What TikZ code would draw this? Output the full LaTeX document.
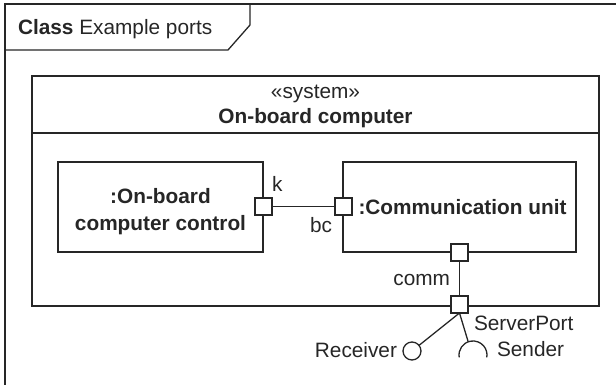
\documentclass[tikz,border=0pt]{standalone}
\usepackage{fontspec}
\setmainfont{Liberation Sans}
\begin{document}
\begin{tikzpicture}[x=1pt,y=-1pt,line width=1.3pt,
  every node/.style={inner sep=0pt,outer sep=0pt,text=ink,font=\fontsize{20.8}{27}\selectfont},
  txt/.style={font=\fontsize{20.8}{27}\selectfont},
  btxt/.style={font=\fontsize{20.8}{27}\selectfont\bfseries},
  box/.style={draw=ink,fill=white},
  port/.style={draw=ink,fill=white,minimum size=17pt},
  ball/.style={draw=ink,fill=white,circle,minimum size=18pt}]
\definecolor{ink}{gray}{0.15}
\useasboundingbox (0,0) rectangle (616,385);
% frame
\coordinate (fTR) at (616,4);
\coordinate (fTL) at (5,4);
\coordinate (fBL) at (5,385);
\draw[ink] (fTR) -- (fTL) -- (fBL);
\coordinate (hA) at (5,50);
\coordinate (hB) at (228,50);
\coordinate (hC) at (250,25);
\coordinate (hD) at (250,4);
\draw[ink] (hA) -- (hB) -- (hC) -- (hD);
\node[anchor=base west] (title) at (18,34.5) {\textbf{Class} Example ports};
% system box
\node[box,minimum width=567pt,minimum height=230pt] (sys) at (315.5,191) {};
\coordinate (divL) at (32,133);
\coordinate (divR) at (599,133);
\draw[ink] (divL) -- (divR);
\node[txt,anchor=base] (stereo) at (315.5,98.5) {«system»};
\node[btxt,anchor=base] (sysname) at (315.5,124) {On-board computer};
% parts
\node[box,minimum width=205pt,minimum height=90pt] (ctrl) at (160.5,207) {};
\node[btxt,align=center] (ctrltxt) at (160.5,212) {:On-board\\computer control};
\node[box,minimum width=233pt,minimum height=90pt] (comm) at (459.5,207) {};
\node[btxt,anchor=base] (commtxt) at (462.5,214) {:Communication unit};
% ports
\node[port] (kp) at (263.5,206.5) {};
\node[port] (bcp) at (343.5,206.5) {};
\node[port] (cp) at (459.5,252.5) {};
\node[port] (bp) at (459.5,304.5) {};
\draw[ink] (kp) -- (bcp);
\draw[ink] (cp) -- (bp);
% interfaces
\node[ball] (recv) at (412,351) {};
\draw[ink] (bp.south) -- (recv);
\coordinate (sock) at (468.2,341.8);
\coordinate (sockstart) at (459.2,357.4);
\draw[ink] (bp.south) -- (sock);
\draw[ink] (sockstart) arc[start angle=170,end angle=370,radius=14];
% labels
\node[txt,anchor=base west] (klab) at (272,191) {k};
\node[txt,anchor=base east] (bclab) at (332,232) {bc};
\node[txt,anchor=base east] (commlab) at (450,285) {comm};
\node[txt,anchor=base east] (recvlab) at (397,357) {Receiver};
\node[txt,anchor=base west] (splab) at (474,330) {ServerPort};
\node[txt,anchor=base west] (sendlab) at (497,356) {Sender};
\end{tikzpicture}
\end{document}
